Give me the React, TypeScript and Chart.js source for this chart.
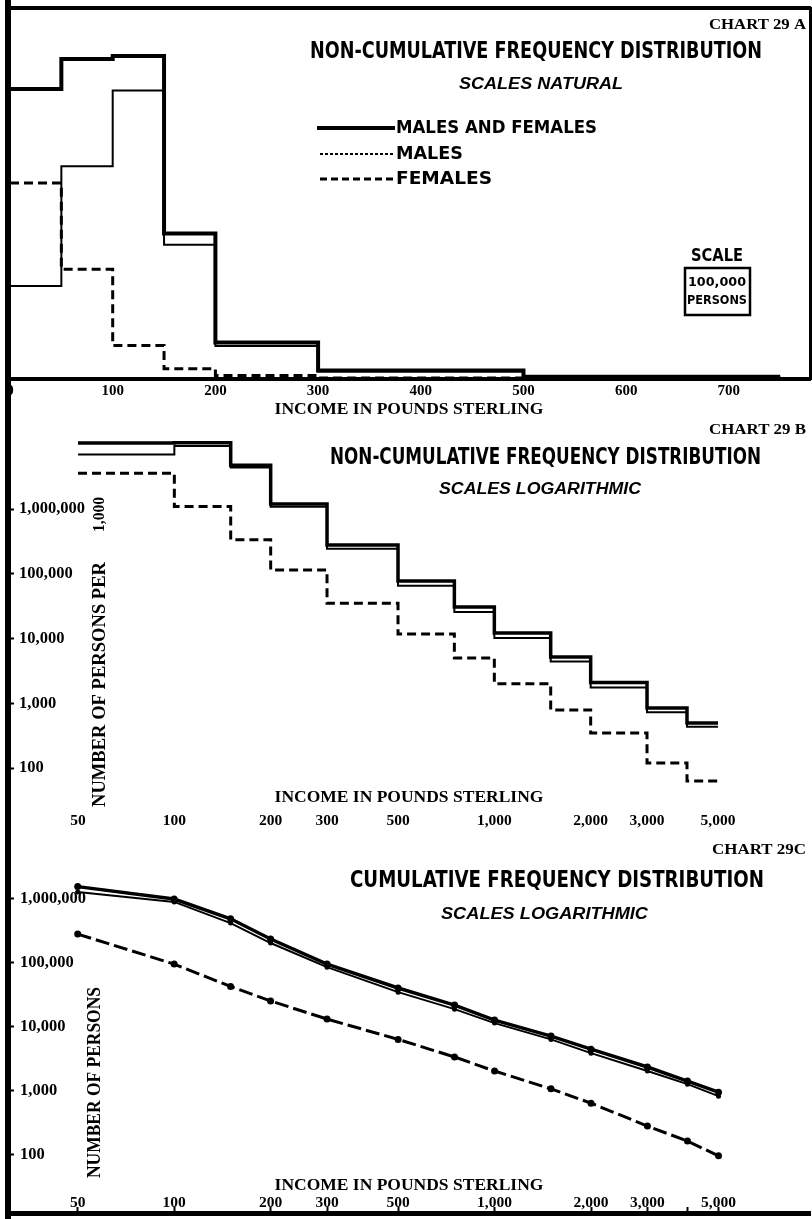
import React, { useEffect, useRef } from 'react';
import { Chart, registerables } from 'chart.js';

Chart.register(...registerables);

// ---------------- DATA ----------------
// Income class limits (pounds sterling)
const incomeEdges = [0, 50, 100, 150, 200, 300, 500, 750, 1000, 1500, 2000, 3000, 4000, 5000];
// Non-cumulative frequency: persons per £1,000 of income, one value per class (0-50 ... 4000-5000)
const ncMalesAndFemales = [9470000, 10450000, 10550000, 4750000, 1190000, 278000, 77000, 30600, 12200, 5200, 2100, 845, 495];
const ncMales = [3040000, 6950000, 9420000, 4380000, 1080000, 243000, 65000, 25600, 10200, 4400, 1750, 725, 432];
const ncFemales = [6400000, 3580000, 1090000, 335000, 114000, 35000, 11700, 5000, 2000, 790, 347, 120, 63];

// Cumulative frequency: number of persons with income above each limit
const cumIncome = [50, 100, 150, 200, 300, 500, 750, 1000, 1500, 2000, 3000, 4000, 5000];
const cumMalesAndFemales = [1560000, 1000000, 490000, 237000, 96000, 40700, 22000, 12800, 7200, 4500, 2370, 1430, 960];
const cumMales = [1290000, 900000, 420000, 205000, 86000, 35000, 19000, 11500, 6400, 3900, 2050, 1280, 830];
const cumFemales = [283000, 96000, 43000, 25500, 13300, 6400, 3400, 2050, 1080, 646, 283, 165, 97];

// Ticks
const naturalTicks = [0, 100, 200, 300, 400, 500, 600, 700];
const naturalTickLabels = ['0', '100', '200', '300', '400', '500', '600', '700'];
const logIncomeTicks = [50, 100, 200, 300, 500, 1000, 2000, 3000, 5000];
const logIncomeTickLabels = ['50', '100', '200', '300', '500', '1,000', '2,000', '3,000', '5,000'];
const cumIncomeTicks = [50, 100, 200, 300, 500, 1000, 2000, 3000, 4000, 5000];
const cumIncomeTickLabels = ['50', '100', '200', '300', '500', '1,000', '2,000', '3,000', '', '5,000'];
const personTicks = [100, 1000, 10000, 100000, 1000000];
const personTickLabels = ['100', '1,000', '10,000', '100,000', '1,000,000'];

const seriesNames = ['MALES AND FEMALES', 'MALES', 'FEMALES'];

// ---------------- STYLE HELPERS ----------------
const SERIF = "'Liberation Serif', 'DejaVu Serif', serif";
const NARROW = "'Liberation Sans Narrow', 'DejaVu Sans Condensed', 'Liberation Sans', sans-serif";
const SANS = "'Liberation Sans', 'DejaVu Sans', sans-serif";
const BLACK = '#000';

function stepSeries(values: number[], from: number, to: number) {
  const pts: { x: number; y: number }[] = [];
  for (let i = from; i < to; i++) pts.push({ x: incomeEdges[i], y: values[i] });
  pts.push({ x: incomeEdges[to], y: values[to - 1] });
  return pts;
}

function pairs(xs: number[], ys: number[]) {
  return xs.map((x, i) => ({ x, y: ys[i] }));
}

const fixSize = (size: number) => (s: any) => {
  if (s.isHorizontal()) s.height = size;
  else s.width = size;
  s.paddingLeft = 0;
  s.paddingRight = 0;
  s.paddingTop = 0;
  s.paddingBottom = 0;
};

const setTicks = (vals: number[]) => (s: any) => {
  s.ticks = vals.map((v) => ({ value: v }));
};

type Txt = { text: string; x: number; y: number; font: string; width?: number; align?: 'left' | 'right' | 'center'; rotate?: boolean };
type Seg = { x1: number; y1: number; x2: number; y2: number; width: number; dash?: number[] };
type Box = { x: number; y: number; w: number; h: number; width: number };

function decor(id: string, texts: Txt[], segs: Seg[] = [], boxes: Box[] = []) {
  return {
    id,
    afterDraw(chart: any) {
      const ctx = chart.ctx as CanvasRenderingContext2D;
      ctx.save();
      ctx.fillStyle = BLACK;
      ctx.strokeStyle = BLACK;
      for (const s of segs) {
        ctx.beginPath();
        ctx.lineWidth = s.width;
        ctx.setLineDash(s.dash || []);
        ctx.moveTo(s.x1, s.y1);
        ctx.lineTo(s.x2, s.y2);
        ctx.stroke();
      }
      ctx.setLineDash([]);
      for (const b of boxes) {
        ctx.lineWidth = b.width;
        ctx.strokeRect(b.x, b.y, b.w, b.h);
      }
      for (const t of texts) {
        ctx.save();
        ctx.font = t.font;
        ctx.textBaseline = 'middle';
        ctx.textAlign = 'left';
        const w = ctx.measureText(t.text).width;
        const sx = t.width ? t.width / w : 1;
        const drawn = w * sx;
        ctx.translate(t.x, t.y);
        if (t.rotate) ctx.rotate(-Math.PI / 2);
        const off = t.align === 'right' ? -drawn : t.align === 'center' ? -drawn / 2 : 0;
        ctx.translate(off, 0);
        ctx.scale(sx, 1);
        ctx.fillText(t.text, 0, 0);
        ctx.restore();
      }
      ctx.restore();
    },
  };
}

const tickFont = (size: number) => ({ family: SERIF, size, weight: 'bold' as const });
const xTitle = (bottomPad: number) => ({
  display: true,
  text: 'INCOME IN POUNDS STERLING',
  color: BLACK,
  font: { family: SERIF, size: 17.5, weight: 'bold' as const },
  padding: { top: 0, bottom: bottomPad },
});

const commonOptions = {
  responsive: false,
  animation: false as const,
  events: [] as any[],
  plugins: { legend: { display: false }, tooltip: { enabled: false } },
};

// ---------------- CHART 29 A ----------------
function buildA(): any {
  return {
    type: 'line',
    data: {
      datasets: [
        { label: seriesNames[0], data: stepSeries(ncMalesAndFemales, 0, 7), borderColor: BLACK, borderWidth: 4, stepped: true, pointRadius: 0, fill: false },
        { label: seriesNames[1], data: stepSeries(ncMales, 0, 7), borderColor: BLACK, borderWidth: 2, stepped: true, pointRadius: 0, fill: false },
        { label: seriesNames[2], data: stepSeries(ncFemales, 0, 7), borderColor: BLACK, borderWidth: 3, borderDash: [9, 5], stepped: true, pointRadius: 0, fill: false },
      ],
    },
    options: {
      ...commonOptions,
      layout: { autoPadding: false, padding: { left: 8, right: 2, top: 8, bottom: 0 } },
      scales: {
        x: {
          type: 'linear', position: 'bottom', min: -1.95, max: 779, bounds: 'data',
          afterFit: fixSize(41), afterBuildTicks: setTicks(naturalTicks),
          ticks: { color: BLACK, font: tickFont(15), padding: 3, autoSkip: false, maxRotation: 0, minRotation: 0, callback: (_v: any, i: number) => naturalTickLabels[i] },
          grid: { display: false, drawTicks: false },
          border: { display: true, width: 4, color: BLACK },
          title: xTitle(0),
        },
        y: { type: 'linear', min: 0, max: 12115000, display: false },
        xTop: {
          type: 'linear', position: 'top', display: true, afterFit: fixSize(0),
          ticks: { display: false }, grid: { display: false, drawTicks: false },
          border: { display: true, width: 4, color: BLACK },
        },
        yRight: {
          type: 'linear', position: 'right', display: true, afterFit: fixSize(0),
          ticks: { display: false }, grid: { display: false, drawTicks: false },
          border: { display: true, width: 3, color: BLACK },
        },
      },
    },
    plugins: [
      decor('decorA', [
        { text: 'CHART 29 A', x: 806, y: 25, font: `bold 15px ${SERIF}`, width: 97, align: 'right' },
        { text: 'NON-CUMULATIVE FREQUENCY DISTRIBUTION', x: 310, y: 52, font: `bold 23px ${NARROW}`, width: 452 },
        { text: 'SCALES NATURAL', x: 459, y: 85, font: `italic bold 16px ${SANS}`, width: 164 },
        { text: seriesNames[0], x: 396, y: 129, font: `bold 17px ${NARROW}`, width: 201 },
        { text: seriesNames[1], x: 396, y: 155, font: `bold 17px ${NARROW}`, width: 67 },
        { text: seriesNames[2], x: 396, y: 180, font: `bold 17px ${NARROW}`, width: 96 },
        { text: 'SCALE', x: 717, y: 256, font: `bold 18px ${NARROW}`, width: 52, align: 'center' },
        { text: '100,000', x: 717, y: 283, font: `bold 13px ${NARROW}`, width: 58, align: 'center' },
        { text: 'PERSONS', x: 717, y: 301, font: `bold 13px ${NARROW}`, width: 60, align: 'center' },
      ], [
        { x1: 317, y1: 128, x2: 395, y2: 128, width: 4 },
        { x1: 320, y1: 154, x2: 395, y2: 154, width: 2, dash: [3, 2] },
        { x1: 320, y1: 179, x2: 395, y2: 179, width: 3, dash: [7, 4] },
      ], [
        { x: 685, y: 268, w: 65, h: 47, width: 2.5 },
      ]),
    ],
  };
}

// ---------------- CHART 29 B ----------------
function buildB(): any {
  return {
    type: 'line',
    data: {
      datasets: [
        { label: seriesNames[0], data: stepSeries(ncMalesAndFemales, 1, 13), borderColor: BLACK, borderWidth: 3.5, stepped: true, pointRadius: 0, fill: false },
        { label: seriesNames[1], data: stepSeries(ncMales, 1, 13), borderColor: BLACK, borderWidth: 2, stepped: true, pointRadius: 0, fill: false },
        { label: seriesNames[2], data: stepSeries(ncFemales, 1, 13), borderColor: BLACK, borderWidth: 3, borderDash: [9, 5], stepped: true, pointRadius: 0, fill: false },
      ],
    },
    options: {
      ...commonOptions,
      layout: { autoPadding: false, padding: { left: 8, right: 2, top: 10, bottom: 0 } },
      scales: {
        x: {
          type: 'logarithmic', position: 'bottom', min: 30.21, max: 9693, bounds: 'data',
          afterFit: fixSize(28), afterBuildTicks: setTicks(logIncomeTicks),
          ticks: { color: BLACK, font: tickFont(15.5), padding: 4, autoSkip: false, maxRotation: 0, minRotation: 0, callback: (_v: any, i: number) => logIncomeTickLabels[i] },
          grid: { display: false, drawTicks: false },
          border: { display: false },
          title: xTitle(28),
        },
        y: {
          type: 'logarithmic', position: 'left', min: 24.12, max: 16600000, bounds: 'data',
          afterFit: fixSize(0), afterBuildTicks: setTicks(personTicks),
          ticks: { color: BLACK, font: tickFont(16.5), mirror: true, padding: 11, autoSkip: false, callback: (_v: any, i: number) => personTickLabels[i] },
          grid: { display: true, drawOnChartArea: false, drawTicks: true, tickLength: -6, tickWidth: 2, tickColor: BLACK, color: BLACK },
          border: { display: false },
        },
      },
    },
    plugins: [
      decor('decorB', [
        { text: 'CHART 29 B', x: 806, y: 10, font: `bold 15px ${SERIF}`, width: 97, align: 'right' },
        { text: 'NON-CUMULATIVE FREQUENCY DISTRIBUTION', x: 330, y: 38, font: `bold 23px ${NARROW}`, width: 431 },
        { text: 'SCALES LOGARITHMIC', x: 439, y: 70, font: `italic bold 16px ${SANS}`, width: 202 },
        { text: 'NUMBER OF PERSONS PER', x: 100, y: 387, font: `bold 18px ${SERIF}`, width: 245, rotate: true },
        { text: '1,000', x: 100, y: 112, font: `bold 16px ${SERIF}`, width: 35, rotate: true },
      ]),
    ],
  };
}

// ---------------- CHART 29 C ----------------
function buildC(): any {
  return {
    type: 'line',
    data: {
      datasets: [
        { label: seriesNames[0], data: pairs(cumIncome, cumMalesAndFemales), borderColor: BLACK, borderWidth: 3.5, pointRadius: 3.5, pointBackgroundColor: BLACK, pointBorderWidth: 0, fill: false },
        { label: seriesNames[1], data: pairs(cumIncome, cumMales), borderColor: BLACK, borderWidth: 2, pointRadius: 2.5, pointBackgroundColor: BLACK, pointBorderWidth: 0, fill: false },
        { label: seriesNames[2], data: pairs(cumIncome, cumFemales), borderColor: BLACK, borderWidth: 3, borderDash: [14, 5], pointRadius: 3.5, pointBackgroundColor: BLACK, pointBorderWidth: 0, fill: false },
      ],
    },
    options: {
      ...commonOptions,
      layout: { autoPadding: false, padding: { left: 8, right: 2, top: 24, bottom: 0 } },
      scales: {
        x: {
          type: 'logarithmic', position: 'bottom', min: 30.3, max: 9650, bounds: 'data',
          afterFit: fixSize(6), afterBuildTicks: setTicks(cumIncomeTicks),
          ticks: { color: BLACK, font: tickFont(15.5), mirror: true, padding: 1, autoSkip: false, maxRotation: 0, minRotation: 0, callback: (_v: any, i: number) => cumIncomeTickLabels[i] },
          grid: { display: true, drawOnChartArea: false, drawTicks: true, tickLength: -6, tickWidth: 2, tickColor: BLACK, color: BLACK },
          border: { display: true, width: 5, color: BLACK },
          title: xTitle(23.5),
        },
        y: {
          type: 'logarithmic', position: 'left', min: 12.41, max: 4064000, bounds: 'data',
          afterFit: fixSize(0), afterBuildTicks: setTicks(personTicks),
          ticks: { color: BLACK, font: tickFont(16.5), mirror: true, padding: 12, autoSkip: false, callback: (_v: any, i: number) => personTickLabels[i] },
          grid: { display: true, drawOnChartArea: false, drawTicks: true, tickLength: -6, tickWidth: 2, tickColor: BLACK, color: BLACK },
          border: { display: false },
        },
      },
    },
    plugins: [
      decor('decorC', [
        { text: 'CHART 29C', x: 806, y: 14, font: `bold 15px ${SERIF}`, width: 94, align: 'right' },
        { text: 'CUMULATIVE FREQUENCY DISTRIBUTION', x: 350, y: 45, font: `bold 23px ${NARROW}`, width: 414 },
        { text: 'SCALES LOGARITHMIC', x: 441, y: 79, font: `italic bold 16px ${SANS}`, width: 207 },
        { text: 'NUMBER OF PERSONS', x: 95, y: 342, font: `bold 18px ${SERIF}`, width: 191, rotate: true },
      ]),
    ],
  };
}

function ChartCanvas({ top, height, build }: { top: number; height: number; build: () => any }) {
  const ref = useRef<HTMLCanvasElement>(null);
  useEffect(() => {
    const chart = new Chart(ref.current as HTMLCanvasElement, build());
    return () => chart.destroy();
  }, []);
  return (
    <canvas
      ref={ref}
      width={812}
      height={height}
      style={{ position: 'absolute', left: 0, top, width: 812, height, display: 'block' }}
    />
  );
}

export default function App() {
  return (
    <div style={{ position: 'absolute', left: 0, top: 0, width: 812, height: 1219, background: '#fff', overflow: 'hidden' }}>
      <ChartCanvas top={0} height={420} build={buildA} />
      <ChartCanvas top={420} height={416} build={buildB} />
      <ChartCanvas top={836} height={383} build={buildC} />
      <div style={{ position: 'absolute', left: 5, top: 0, width: 6, height: 1219, background: '#000' }} />
    </div>
  );
}
